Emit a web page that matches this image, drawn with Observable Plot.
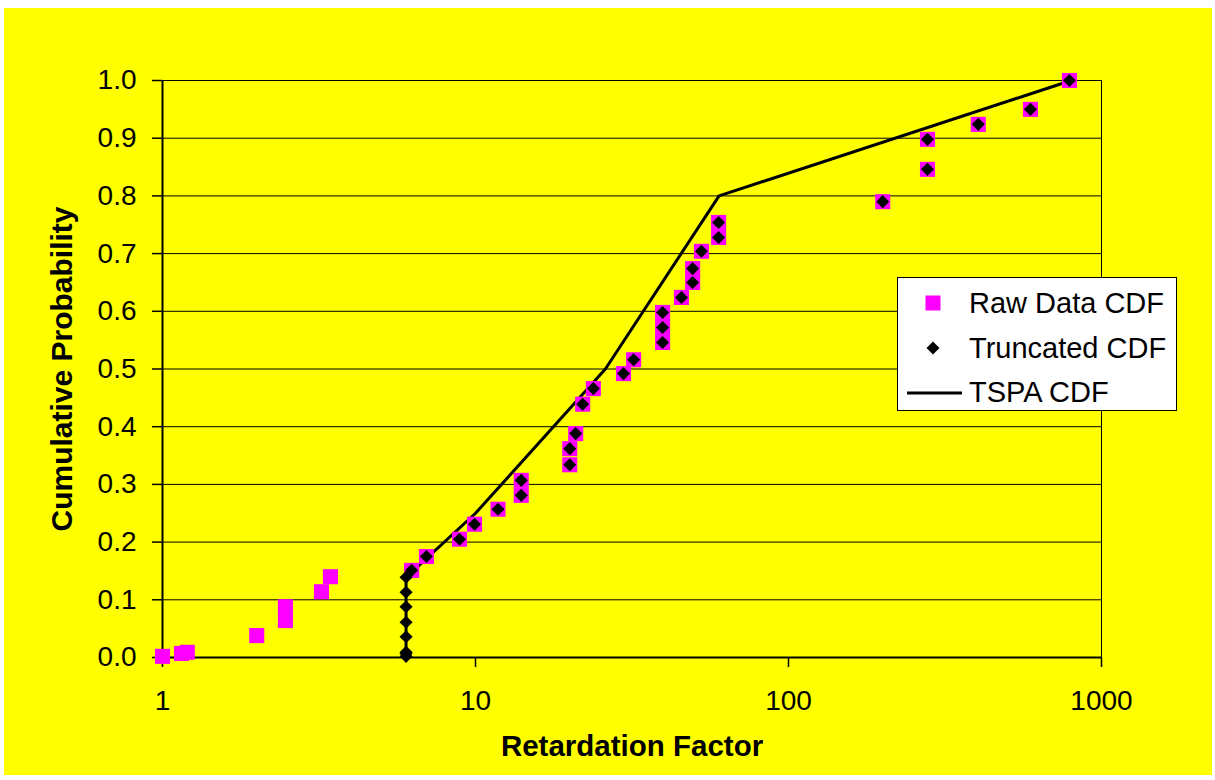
<!DOCTYPE html>
<html><head><meta charset="utf-8">
<script src="https://cdn.jsdelivr.net/npm/d3@7"></script>
<script src="https://cdn.jsdelivr.net/npm/@observablehq/plot@0.6"></script>
<style>
html,body{margin:0;padding:0;background:#fff;}
#wrap{position:absolute;left:4px;top:8px;width:1208px;height:767px;background:#ffff00;overflow:hidden;font-family:Arial,"Liberation Sans",sans-serif;}
#chart{position:absolute;left:0;top:0;}
#legend{position:absolute;left:893px;top:269px;width:278px;height:132px;background:#fff;border:1px solid #000;}
.row{position:absolute;left:0;width:278px;height:40px;}
.row svg{position:absolute;left:8px;top:0;}
.row span{position:absolute;left:71px;top:50%;transform:translateY(-50%);font-size:29px;line-height:29px;color:#000;white-space:nowrap;}
</style></head>
<body><div id="wrap"><div id="chart"></div><div id="legend"></div></div>
<script>
// Raw data CDF
const rawX = [1, 1.15, 1.2, 2.0, 2.47, 2.47, 3.22, 3.44, 6.25, 6.97, 8.89, 9.93, 11.8, 14.0, 14.0, 20.0, 20.0, 20.9, 22.0, 23.8, 29.7, 32.0, 39.6, 39.6, 39.6, 45.5, 49.4, 49.4, 52.7, 59.8, 59.8, 200, 278, 278, 404, 593, 790];
const rawP = [0.002, 0.007, 0.009, 0.038, 0.064, 0.088, 0.114, 0.140, 0.151, 0.175, 0.205, 0.231, 0.257, 0.281, 0.307, 0.334, 0.362, 0.388, 0.439, 0.466, 0.492, 0.516, 0.546, 0.572, 0.598, 0.624, 0.650, 0.674, 0.704, 0.728, 0.754, 0.790, 0.846, 0.898, 0.924, 0.950, 1.0];
// Truncated CDF
const truncX = [6, 6, 6, 6, 6, 6, 6, 6, 6.25, 6.97, 8.89, 9.93, 11.8, 14.0, 14.0, 20.0, 20.0, 20.9, 22.0, 23.8, 29.7, 32.0, 39.6, 39.6, 39.6, 45.5, 49.4, 49.4, 52.7, 59.8, 59.8, 200, 278, 278, 404, 593, 790];
const truncP = [0.002, 0.007, 0.009, 0.036, 0.061, 0.088, 0.113, 0.139, 0.151, 0.175, 0.205, 0.231, 0.257, 0.281, 0.307, 0.334, 0.362, 0.388, 0.439, 0.466, 0.492, 0.516, 0.546, 0.572, 0.598, 0.624, 0.650, 0.674, 0.704, 0.728, 0.754, 0.790, 0.846, 0.898, 0.924, 0.950, 1.0];
// TSPA CDF
const tspaX = [6, 6, 10, 26, 60, 800];
const tspaP = [0, 0.139, 0.25, 0.5, 0.8, 1.0];

const xTicks = [1, 10, 100, 1000];
const yTicks = [0, 0.1, 0.2, 0.3, 0.4, 0.5, 0.6, 0.7, 0.8, 0.9, 1.0];
const seriesNames = ["Raw Data CDF", "Truncated CDF", "TSPA CDF"];
const xTitle = "Retardation Factor";
const yTitle = "Cumulative Probability";

const raw = rawX.map((x, i) => ({x, p: rawP[i]}));
const trunc = truncX.map((x, i) => ({x, p: truncP[i]}));
const tspa = tspaX.map((x, i) => ({x, p: tspaP[i]}));

const chart = Plot.plot({
  width: 1208, height: 767,
  marginLeft: 158, marginTop: 72, marginRight: 111, marginBottom: 118,
  style: {background: "transparent", fontFamily: "Arial, 'Liberation Sans', sans-serif", color: "#000", overflow: "visible"},
  x: {type: "log", domain: [1, 1000]},
  y: {domain: [0, 1]},
  marks: [
    Plot.ruleY(yTicks.filter(d => d > 0), {stroke: "#000", strokeWidth: 1}),
    Plot.frame({stroke: "#000", strokeWidth: 1}),
    Plot.ruleX([1], {stroke: "#000", strokeWidth: 2}),
    Plot.ruleY([0], {stroke: "#000", strokeWidth: 2}),
    Plot.axisY({ticks: yTicks, tickFormat: d3.format(".1f"), tickSize: 10, tickPadding: 16, fontSize: 28, label: null, strokeWidth: 1.5}),
    Plot.axisX({ticks: xTicks, tickFormat: d => String(d), tickSize: 10, tickPadding: 23, fontSize: 28, label: null, strokeWidth: 1.5}),
    Plot.line(tspa, {x: "x", y: "p", stroke: "#000", strokeWidth: 3}),
    Plot.dot(raw, {x: "x", y: "p", symbol: "square", r: 8.5, fill: "#ff00ff", stroke: null}),
    Plot.dot(trunc, {x: "x", y: "p", symbol: "diamond2", r: 5.9, fill: "#000", stroke: null}),
    Plot.text([xTitle], {text: d => d, frameAnchor: "bottom", dy: 98, fontSize: 29.5, fontWeight: "bold"}),
    Plot.text([yTitle], {text: d => d, frameAnchor: "left", textAnchor: "middle", dx: -100, rotate: -90, fontSize: 30, fontWeight: "bold"})
  ]
});
document.getElementById("chart").appendChild(chart);

// Legend
const legend = document.getElementById("legend");
const rowCenters = [25, 70, 114];
const swatches = [
  '<svg width="56" height="40"><rect x="19.5" y="12.5" width="15" height="15" fill="#ff00ff"/></svg>',
  '<svg width="56" height="40"><path d="M27,13.5 L33.5,20 L27,26.5 L20.5,20 Z" fill="#000"/></svg>',
  '<svg width="56" height="40"><line x1="1" y1="21" x2="56" y2="21" stroke="#000" stroke-width="3"/></svg>'
];
seriesNames.forEach((name, i) => {
  const row = document.createElement("div");
  row.className = "row";
  row.style.top = (rowCenters[i] - 20) + "px";
  row.innerHTML = swatches[i] + '<span>' + name + '</span>';
  legend.appendChild(row);
});
</script>
</body></html>
